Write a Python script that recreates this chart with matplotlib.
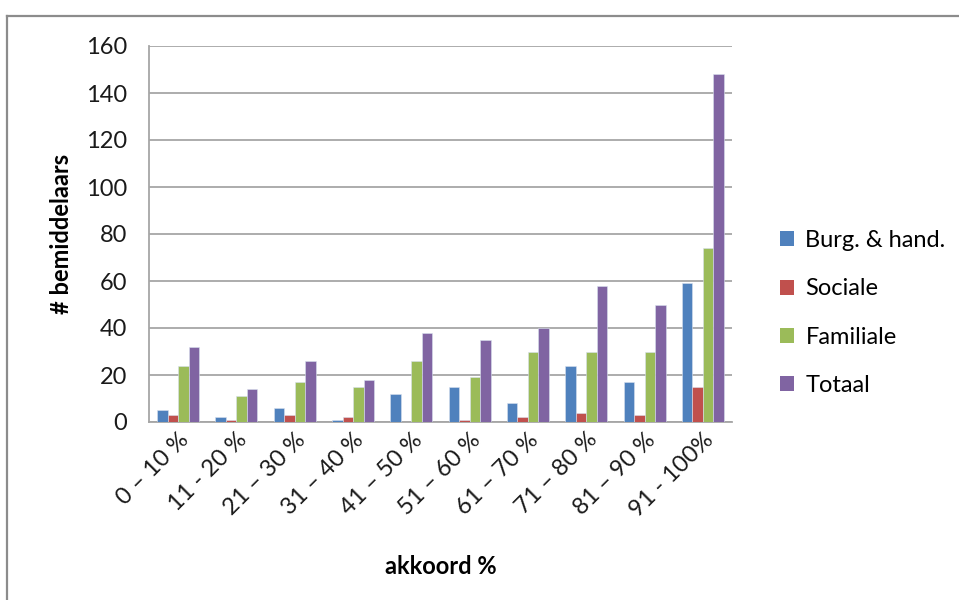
import matplotlib
matplotlib.use("Agg")
import matplotlib.pyplot as plt
from matplotlib.lines import Line2D
from matplotlib.patches import Patch
import numpy as np

plt.rcParams['font.family'] = ['Lato', 'DejaVu Sans']

categories = ["0 – 10 %", "11 - 20 %", "21 – 30 %", "31 – 40 %", "41 – 50 %",
              "51 – 60 %", "61 – 70 %", "71 – 80 %", "81 – 90 %", "91 - 100%"]
burg_hand = [5, 2, 6, 1, 12, 15, 8, 24, 17, 59]
sociale = [3, 1, 3, 2, 0, 1, 2, 4, 3, 15]
familiale = [24, 11, 17, 15, 26, 19, 30, 30, 30, 74]
totaal = [32, 14, 26, 18, 38, 35, 40, 58, 50, 148]

series_names = ["Burg. & hand.", "Sociale", "Familiale", "Totaal"]
series_values = [burg_hand, sociale, familiale, totaal]
colors = ["#4F81BD", "#C0504D", "#9BBB59", "#8064A2"]

fig = plt.figure(figsize=(9.59, 6.0), dpi=100)
ax = fig.add_axes([149 / 959, 1 - 422 / 600, (732 - 149) / 959, (422 - 46) / 600])

x = np.arange(len(categories))
bw = 0.18
offsets = (np.arange(4) - 1.5) * bw
for vals, off, col in zip(series_values, offsets, colors):
    ax.bar(x + off, vals, width=bw, color=col, edgecolor="#d8e0ee", linewidth=0.4, zorder=3)

ax.set_xlim(-0.5, len(categories) - 0.5)
ax.set_ylim(0, 160)
ax.set_yticks(np.arange(0, 161, 20))
ax.yaxis.grid(True, color="#a6a6a6", linewidth=1.3, zorder=0)
ax.set_axisbelow(True)

for side in ("top", "right"):
    ax.spines[side].set_visible(False)
for side in ("left", "bottom"):
    ax.spines[side].set_color("#a6a6a6")
    ax.spines[side].set_linewidth(1.3)

ax.tick_params(axis="y", length=0, pad=16, labelsize=17, labelcolor="#1a1a1a")
ax.tick_params(axis="x", length=0, pad=5, labelsize=17, labelcolor="#1a1a1a")
ax.set_xticks(x)
ax.set_xticklabels(categories, rotation=45, ha="right", rotation_mode="anchor")

ax.set_ylabel("# bemiddelaars", fontsize=17, fontweight="bold")
ax.yaxis.set_label_coords(-0.13, 0.5)
ax.set_xlabel("akkoord %", fontsize=17, fontweight="bold")
ax.xaxis.set_label_coords(0.5, -0.355)

handles = [Patch(facecolor=c, edgecolor="none") for c in colors]
fig.legend(handles, series_names, loc="center left", bbox_to_anchor=(763 / 959, 1 - 313 / 600),
           frameon=False, fontsize=17, handlelength=0.6, handleheight=0.6,
           handletextpad=0.5, labelspacing=1.15, borderpad=0.2)

# outer chart frame (left and top edges)
fig.add_artist(Line2D([6.5 / 959, 6.5 / 959], [0, 1 - 15.5 / 600], transform=fig.transFigure,
                      color="#8c8c8c", linewidth=1.6))
fig.add_artist(Line2D([6.5 / 959, 1], [1 - 15.5 / 600, 1 - 15.5 / 600], transform=fig.transFigure,
                      color="#8c8c8c", linewidth=1.6))

fig.savefig("out.png", dpi=100, facecolor="white")
